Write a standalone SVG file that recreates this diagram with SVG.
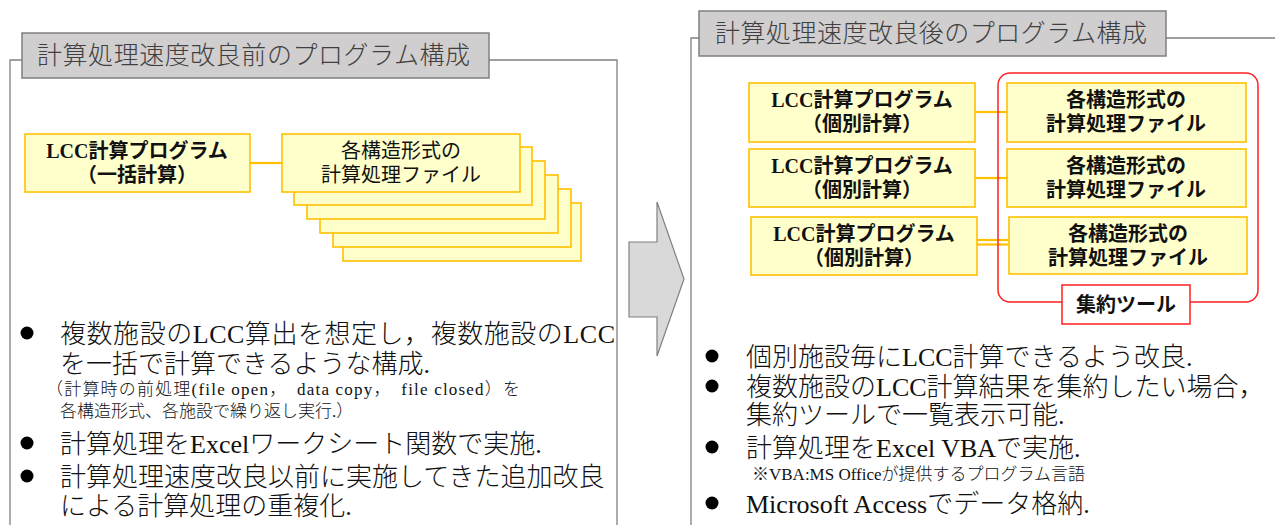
<svg xmlns="http://www.w3.org/2000/svg" width="1275" height="525" viewBox="0 0 1275 525">
<style>
text{font-family:"Liberation Serif","Noto Sans CJK JP",serif;fill:#111}
.ttl{font-size:25px;fill:#404040;font-weight:300}
.frame{fill:none;stroke:#808080;stroke-width:1.3}
.tbox{fill:#D0CECE;stroke:#808080;stroke-width:1.5}
.ybox{fill:#FFFFCC;stroke:#FFC000;stroke-width:1.6}
.lbl{font-size:20px;text-anchor:middle}
.b{font-weight:bold}
.big{font-size:26px;font-weight:300}
.sm{font-size:17px;font-weight:300}
.con{stroke:#FFC000;stroke-width:2.2;fill:none}
.red{fill:none;stroke:#FF2020;stroke-width:1.5}
</style>
<g id="left-panel">
<path class="frame" d="M10,525V60H617V525"/>
<rect class="tbox" x="22" y="33" width="467" height="45"/>
<text class="ttl" x="37" y="64" textLength="433" lengthAdjust="spacing">計算処理速度改良前のプログラム構成</text>
</g>
<g id="right-panel">
<path class="frame" d="M691,525V38H1276"/>
<rect class="tbox" x="699" y="11" width="467" height="45"/>
<text class="ttl" x="715" y="42" textLength="432" lengthAdjust="spacing">計算処理速度改良後のプログラム構成</text>
</g>
<g id="arrow">
<polygon points="629,242 657,242 657,202 684,279 657,356 657,317 629,317" fill="#D9D9D9" stroke="#808080" stroke-width="1.2"/>
</g>
<g id="connectors">
<line class="con" x1="250" y1="163" x2="282" y2="163"/>
<line class="con" x1="975" y1="112" x2="1007" y2="112"/>
<line class="con" x1="975" y1="178" x2="1007" y2="178"/>
<line class="con" x1="977" y1="240" x2="1009" y2="240" stroke-width="1.6"/>
<line class="con" x1="977" y1="244.5" x2="1009" y2="244.5" stroke-width="1.6"/>
</g>
<g id="lcc-batch">
<rect class="ybox" x="25" y="134" width="225" height="58"/>
<text class="lbl b" x="137" y="158">LCC計算プログラム</text>
<text class="lbl b" x="137" y="182">（一括計算）</text>
</g>
<g id="file-stack">
<rect class="ybox" x="343" y="203" width="238" height="58"/>
<rect class="ybox" x="333" y="189" width="238" height="58"/>
<rect class="ybox" x="320" y="175" width="238" height="58"/>
<rect class="ybox" x="307" y="161" width="238" height="58"/>
<rect class="ybox" x="294" y="147" width="238" height="58"/>
<rect class="ybox" x="282" y="134" width="238" height="58"/>
<text class="lbl" x="401" y="158">各構造形式の</text>
<text class="lbl" x="401" y="182">計算処理ファイル</text>
</g>
<g id="lcc-individual-1">
<rect class="ybox" x="749" y="83" width="226" height="59"/>
<text class="lbl b" x="862" y="107">LCC計算プログラム</text>
<text class="lbl b" x="862" y="131">（個別計算）</text>
</g>
<g id="lcc-individual-2">
<rect class="ybox" x="749" y="149" width="226" height="58"/>
<text class="lbl b" x="862" y="173">LCC計算プログラム</text>
<text class="lbl b" x="862" y="197">（個別計算）</text>
</g>
<g id="lcc-individual-3">
<rect class="ybox" x="751" y="217" width="226" height="58"/>
<text class="lbl b" x="864" y="241">LCC計算プログラム</text>
<text class="lbl b" x="864" y="265">（個別計算）</text>
</g>
<g id="aggregation-tool">
<rect class="red" x="998" y="73" width="260" height="229" rx="12"/>
<rect x="1062" y="285" width="128" height="39" fill="#FFFFFF" stroke="#FF2020" stroke-width="1.5"/>
<text class="lbl b" x="1126" y="312">集約ツール</text>
</g>
<g id="file-1">
<rect class="ybox" x="1007" y="83" width="239" height="59"/>
<text class="lbl b" x="1126" y="107">各構造形式の</text>
<text class="lbl b" x="1126" y="131">計算処理ファイル</text>
</g>
<g id="file-2">
<rect class="ybox" x="1007" y="149" width="239" height="58"/>
<text class="lbl b" x="1126" y="173">各構造形式の</text>
<text class="lbl b" x="1126" y="197">計算処理ファイル</text>
</g>
<g id="file-3">
<rect class="ybox" x="1009" y="217" width="238" height="57"/>
<text class="lbl b" x="1128" y="241">各構造形式の</text>
<text class="lbl b" x="1128" y="265">計算処理ファイル</text>
</g>
<g id="left-notes">
<circle cx="27" cy="333" r="6.5" fill="#000"/>
<text class="big" x="60" y="343" textLength="555" lengthAdjust="spacing">複数施設のLCC算出を想定し，複数施設のLCC</text>
<text class="big" x="60" y="373">を一括で計算できるような構成.</text>
<text class="sm" x="46" y="395" textLength="474" lengthAdjust="spacing">（計算時の前処理(file open，　data copy，　file closed）を</text>
<text class="sm" x="60" y="417">各構造形式、各施設で繰り返し実行.）</text>
<circle cx="27" cy="443" r="6.5" fill="#000"/>
<text class="big" x="60" y="453">計算処理をExcelワークシート関数で実施.</text>
<circle cx="27" cy="476" r="6.5" fill="#000"/>
<text class="big" x="60" y="486">計算処理速度改良以前に実施してきた追加改良</text>
<text class="big" x="60" y="515">による計算処理の重複化.</text>
</g>
<g id="right-notes">
<circle cx="712" cy="356" r="6.5" fill="#000"/>
<text class="big" x="746" y="366">個別施設毎にLCC計算できるよう改良.</text>
<circle cx="712" cy="386" r="6.5" fill="#000"/>
<text class="big" x="746" y="396">複数施設のLCC計算結果を集約したい場合，</text>
<text class="big" x="746" y="424">集約ツールで一覧表示可能.</text>
<circle cx="712" cy="447" r="6.5" fill="#000"/>
<text class="big" x="746" y="457">計算処理をExcel VBAで実施.</text>
<text class="sm" x="752" y="480">※VBA:MS Officeが提供するプログラム言語</text>
<circle cx="712" cy="503" r="6.5" fill="#000"/>
<text class="big" x="746" y="513">Microsoft Accessでデータ格納.</text>
</g>
</svg>
